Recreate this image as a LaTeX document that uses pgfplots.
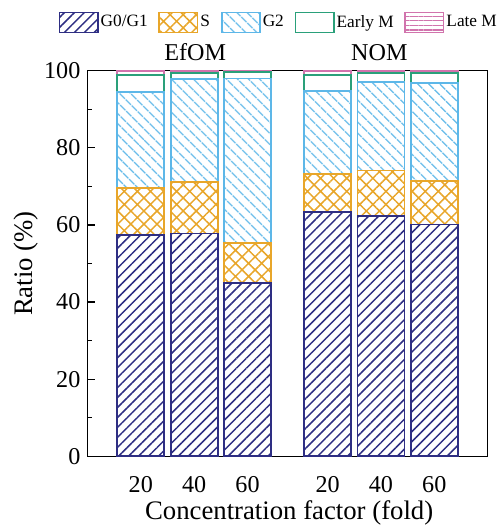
\documentclass[border=0pt]{standalone}
\usepackage{fontspec}
\setmainfont{Liberation Serif}
\usepackage{pgfplots}
\usepackage{pgfplotstable}
\pgfplotsset{compat=1.18}
\usetikzlibrary{patterns.meta}
\definecolor{cNavy}{HTML}{2E2E83}
\definecolor{cOrange}{HTML}{E8A62A}
\definecolor{cBlue}{HTML}{5DB7E8}
\definecolor{cGreen}{HTML}{2AA07A}
\definecolor{cPink}{HTML}{D174AD}
\pgfplotstableread{
x g0 s g2 em lm
1 57.4 12.1 25.0 4.4 1.1
2 57.8 13.4 26.6 1.7 0.5
3 45.0 10.3 42.7 1.7 0.3
4.5 63.3 9.9 21.5 4.2 1.1
5.5 62.3 11.8 23.0 2.3 0.6
6.5 60.1 11.4 25.4 2.6 0.5
}\data
\begin{document}
\begin{tikzpicture}
\begin{axis}[
  scale only axis,
  width=199pt, height=191.7pt,
  ybar stacked,
  bar width=0.88,
  xmin=0, xmax=7.5,
  ymin=0, ymax=100,
  clip=false,
  axis line style={line width=0.65pt},
  xtick={1,2,3,4.5,5.5,6.5},
  xticklabels={20,40,60,20,40,60},
  xtick style={draw=none},
  xticklabel style={yshift=-6.5pt},
  ytick={0,20,40,60,80,100},
  minor y tick num=1,
  ytick pos=left,
  tick align=inside,
  major tick length=4pt,
  minor tick length=2.5pt,
  y tick style={line width=0.65pt, black},
  /pgf/number format/assume math mode=true,
  tick label style={font=\fontsize{12}{14}\selectfont},
  xlabel={Concentration factor (fold)},
  ylabel={Ratio (\%)},
  label style={font=\fontsize{13.3}{16}\selectfont},
  xlabel style={at={(axis description cs:0.504,-0.1635)}, anchor=base, inner sep=0pt},
  ylabel style={at={(axis description cs:-0.153,0.5)}, anchor=center, inner sep=7pt},
  legend columns=5,
  legend style={draw=none, fill=none, at={(axis description cs:-0.073,1.125)}, anchor=west,
    inner xsep=0pt, inner ysep=5.75pt, font=\fontsize{8.6}{10}\selectfont,
    nodes={inner sep=1pt},
    /tikz/every even column/.append style={column sep=4.3pt}},
  legend image code/.code={\draw[#1] (0pt,-5pt) rectangle (19pt,5pt);},
]
\addplot[draw=cNavy, line width=0.9pt, pattern={Lines[angle=45,distance=3.5pt,line width=0.75pt]}, pattern color=cNavy] table[x=x,y=g0]{\data};
\addplot[draw=cOrange, line width=0.9pt, pattern={Hatch[angle=45,distance=4.6pt,line width=0.75pt]}, pattern color=cOrange] table[x=x,y=s]{\data};
\addplot[draw=cBlue, line width=0.9pt, pattern={Lines[angle=-45,distance=4pt,line width=0.75pt]}, pattern color=cBlue] table[x=x,y=g2]{\data};
\addplot[draw=cGreen, line width=0.9pt, fill=white] table[x=x,y=em]{\data};
\addplot[draw=cPink, line width=0.9pt, pattern={Lines[angle=0,distance=2.3pt,line width=0.6pt]}, pattern color=cPink] table[x=x,y=lm]{\data};
\legend{G0/G1,S,G2,Early M,Late M}
\node[anchor=base, inner sep=0pt, yshift=5.3pt, font=\fontsize{12}{14}\selectfont] at (axis cs:2.02,100) {EfOM};
\node[anchor=base, inner sep=0pt, yshift=5.3pt, font=\fontsize{12}{14}\selectfont] at (axis cs:5.47,100) {NOM};
\end{axis}
\end{tikzpicture}
\end{document}
